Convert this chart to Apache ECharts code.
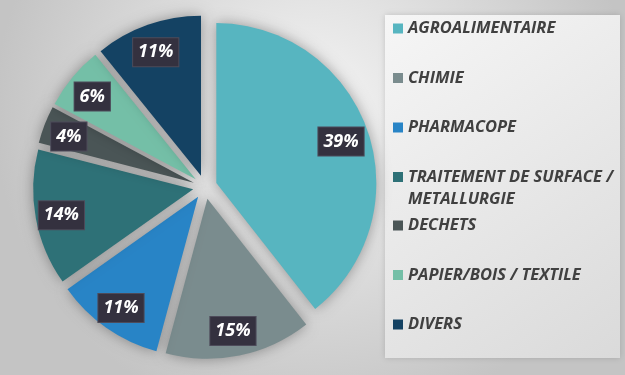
<!DOCTYPE html>
<html>
<head>
<meta charset="utf-8">
<script src="https://cdn.jsdelivr.net/npm/echarts@6/dist/echarts.min.js"></script>
<style>
html,body{margin:0;padding:0;}
#chart{width:625px;height:375px;}
</style>
</head>
<body>
<div id="chart"></div>
<script>
var categories = ['AGROALIMENTAIRE', 'CHIMIE', 'PHARMACOPE', 'TRAITEMENT DE SURFACE /\nMETALLURGIE', 'DECHETS', 'PAPIER/BOIS / TEXTILE', 'DIVERS'];
var values = [39.4, 14.8, 11.0, 13.8, 3.8, 6.4, 10.8];
var colors = ['#57B5C0', '#7A8C8E', '#2884C6', '#2E7177', '#4A5556', '#74BFA7', '#144263'];

var mainData = categories.map(function (c, i) {
  return { name: c, value: values[i], selected: true, itemStyle: { color: colors[i] } };
});
var labelData = categories.map(function (c, i) {
  return { name: c, value: values[i], selected: true };
});

var legendText = { color: '#404040', fontSize: 16.5, fontWeight: 'bold', fontStyle: 'italic', fontFamily: 'Open Sans', lineHeight: 22 };
function legendBox(names, top) {
  return {
    orient: 'vertical', left: 393, top: top, itemWidth: 10, itemHeight: 10, itemGap: 27.5, padding: 0,
    icon: 'rect', selectedMode: false,
    data: names,
    formatter: function (n) { return n.indexOf('\n') >= 0 ? '\n' + n : n; },
    textStyle: legendText
  };
}

var chart = echarts.init(document.getElementById('chart'), null, { renderer: 'canvas' });
chart.setOption({
  animation: false,
  backgroundColor: {
    type: 'radial', x: 0.5, y: 0.3, r: 0.85,
    colorStops: [{ offset: 0, color: '#f5f5f5' }, { offset: 1, color: '#c4c4c4' }]
  },
  graphic: [
    {
      type: 'rect', left: 385, top: 15, z: -1,
      shape: { width: 235, height: 343 },
      style: {
        fill: { type: 'linear', x: 0, y: 0, x2: 1, y2: 1,
          colorStops: [{ offset: 0, color: '#f6f6f6' }, { offset: 1, color: '#dadada' }] },
        shadowBlur: 6, shadowColor: 'rgba(0,0,0,0.15)'
      }
    }
  ],
  legend: [
    legendBox(categories.slice(0, 3), 17.5),
    legendBox(categories.slice(3, 4), 144),
    legendBox(categories.slice(4), 214.5)
  ],
  series: [
    {
      type: 'pie',
      center: [205, 187],
      radius: [0, 160],
      startAngle: 90,
      clockwise: true,
      selectedMode: 'multiple',
      selectedOffset: 12,
      avoidLabelOverlap: false,
      label: { show: false },
      labelLine: { show: false },
      emphasis: { disabled: true },
      itemStyle: { shadowBlur: 14, shadowColor: 'rgba(0,0,0,0.35)' },
      data: mainData
    },
    {
      type: 'pie',
      silent: true,
      center: [204, 189],
      radius: [100, 160],
      startAngle: 90,
      clockwise: true,
      selectedMode: 'multiple',
      selectedOffset: 12,
      avoidLabelOverlap: false,
      itemStyle: { color: 'rgba(0,0,0,0)' },
      emphasis: { disabled: true },
      labelLine: { show: false },
      label: {
        show: true,
        position: 'inside',
        formatter: function (p) { return Math.round(p.percent) + '%'; },
        color: '#ffffff',
        fontSize: 18,
        lineHeight: 20,
        fontWeight: 'bold',
        fontStyle: 'italic',
        fontFamily: 'Open Sans',
        backgroundColor: '#34313F',
        borderColor: '#4d4b5a',
        borderWidth: 1,
        padding: [5, 5, 3, 5]
      },
      data: labelData
    }
  ]
});
</script>
</body>
</html>
